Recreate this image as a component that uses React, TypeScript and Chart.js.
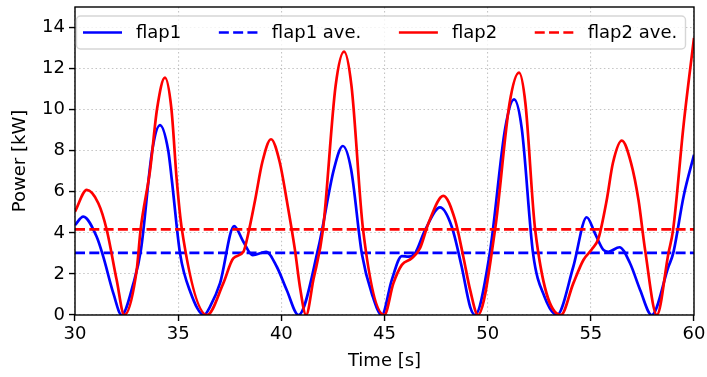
import React, { useEffect, useRef } from 'react';
import { Chart, registerables } from 'chart.js';

Chart.register(...registerables);

// ---- data ----
const flap1Time = [30, 30.4, 31.05, 31.37, 31.86, 32.26, 32.83, 33.2, 33.74, 34.12, 34.52, 34.69, 35.09, 35.6, 36.25, 36.54, 37.03, 37.71, 38.16, 38.61, 39.26, 39.78, 40.26, 40.83, 41.8, 42.55, 42.98, 43.38, 43.9, 44.4, 44.87, 45.35, 45.84, 46.16, 46.48, 46.97, 47.69, 48.26, 48.74, 49.15, 49.39, 50.1, 50.85, 51.28, 51.65, 52.2, 52.75, 53.36, 54.15, 54.8, 55.2, 55.61, 55.85, 56.39, 56.9, 57.39, 57.95, 58.76, 58.99, 59.5, 60];
const flap1Power = [4.38, 4.79, 3.81, 2.84, 1.05, 0, 1.54, 3.2, 8.0, 9.25, 8.0, 6.6, 3.0, 1.1, 0, 0.4, 1.55, 4.33, 3.57, 2.92, 3.08, 2.35, 1.22, 0, 3.3, 7.1, 8.23, 7.1, 3.0, 1.0, 0, 1.7, 2.87, 2.84, 3.0, 4.14, 5.24, 4.3, 2.35, 0.4, 0, 3.0, 9.1, 10.5, 9.1, 3.0, 0.9, 0, 2.35, 4.76, 3.98, 3.17, 3.08, 3.3, 2.52, 1.22, 0, 2.35, 3.0, 5.8, 7.8];

const flap2Time = [30, 30.57, 31.13, 31.54, 32.02, 32.39, 32.99, 33.18, 33.64, 33.98, 34.36, 34.67, 34.93, 35.18, 36.4, 37.19, 37.67, 38.16, 38.4, 38.73, 39.08, 39.5, 39.92, 40.26, 40.66, 40.9, 41.2, 41.55, 42.02, 42.63, 43.04, 43.4, 43.96, 44.99, 45.43, 45.84, 46.32, 46.72, 47.13, 47.85, 48.42, 48.82, 49.15, 49.53, 50.36, 51.06, 51.52, 51.83, 52.3, 53.55, 54.15, 54.64, 55.05, 55.37, 55.77, 56.07, 56.5, 56.95, 57.31, 57.63, 58.2, 58.76, 58.99, 59.5, 60];
const flap2Power = [5.03, 6.09, 5.44, 4.14, 1.7, 0, 2.19, 4.17, 7.06, 10.06, 11.56, 10.06, 6.58, 4.17, 0, 1.55, 2.76, 3.08, 3.98, 5.6, 7.45, 8.56, 7.45, 5.6, 3.17, 1.38, 0, 1.7, 4.17, 11.16, 12.83, 11.16, 4.17, 0, 1.54, 2.44, 2.76, 3.25, 4.47, 5.8, 4.63, 2.84, 1.22, 0, 4.17, 10.3, 11.8, 10.3, 4.17, 0, 1.54, 2.68, 3.2, 3.73, 5.6, 7.4, 8.49, 7.4, 5.6, 3.17, 0, 3.0, 4.17, 9.3, 13.5];

const flap1Average = 3.03;
const flap2Average = 4.17;

const timeRange = [30, 60];
const powerRange = [0, 15];
const xTickValues = [30, 35, 40, 45, 50, 55, 60];
const yTickValues = [0, 2, 4, 6, 8, 10, 12, 14];

const seriesLabels = ['flap1', 'flap1 ave.', 'flap2', 'flap2 ave.'];
const xTitle = 'Time [s]';
const yTitle = 'Power [kW]';

// ---- styles ----
const BLUE = '#0000ff';
const RED = '#ff0000';
const FONT = 'DejaVu Sans';
const LINE_W = 2.7;
const DASH = [10, 4.3];

const toPoints = (xs: number[], ys: number[]) => xs.map((x, i) => ({ x, y: ys[i] }));
const flatLine = (v: number) => timeRange.map((x) => ({ x, y: v }));

const framePlugin = {
  id: 'frameAndLegend',
  afterDraw(chart: any) {
    const { ctx, chartArea } = chart;
    const { left, top, right, bottom } = chartArea;
    ctx.save();
    // spines
    ctx.strokeStyle = '#000';
    ctx.lineWidth = 1.4;
    ctx.setLineDash([]);
    ctx.strokeRect(left, top, right - left, bottom - top);

    // legend (matplotlib-style)
    const items = chart.data.datasets
      .slice()
      .sort((a: any, b: any) => a.legendIndex - b.legendIndex)
      .map((d: any) => ({ label: d.label, color: d.borderColor, dash: d.borderDash || [] }));
    const boxX = left + 1.5;
    const boxY = top + 9;
    const boxW = 609;
    const boxH = 33;
    const cy = boxY + boxH / 2;
    ctx.beginPath();
    ctx.roundRect(boxX, boxY, boxW, boxH, 4);
    ctx.fillStyle = 'rgba(255,255,255,0.8)';
    ctx.fill();
    ctx.strokeStyle = 'rgba(204,204,204,0.8)';
    ctx.lineWidth = 1.4;
    ctx.stroke();

    ctx.font = `18px "${FONT}"`;
    ctx.textBaseline = 'middle';
    ctx.textAlign = 'left';
    let x = boxX + 6.5;
    const handle = 39;
    const gap = 14;
    const colSpace = 37.6;
    for (const it of items) {
      ctx.beginPath();
      ctx.strokeStyle = it.color;
      ctx.lineWidth = LINE_W;
      ctx.setLineDash(it.dash);
      ctx.moveTo(x, cy);
      ctx.lineTo(x + handle, cy);
      ctx.stroke();
      ctx.setLineDash([]);
      ctx.fillStyle = '#000';
      const tx = x + handle + gap;
      ctx.fillText(it.label, tx, cy + 1);
      x = tx + ctx.measureText(it.label).width + colSpace;
    }
    ctx.restore();
  },
};

export default function App() {
  const ref = useRef<HTMLCanvasElement | null>(null);

  useEffect(() => {
    document.body.style.margin = '0';
    const canvas = ref.current;
    if (!canvas) return;
    Chart.defaults.font.family = FONT;

    const tickFont = { family: FONT, size: 18 };
    const gridColor = 'rgba(176,176,176,0.75)';

    const chart = new Chart(canvas, {
      type: 'line',
      data: {
        datasets: [
          {
            label: seriesLabels[3],
            legendIndex: 3,
            data: flatLine(flap2Average),
            borderColor: RED,
            borderDash: DASH,
            borderWidth: LINE_W,
            order: 0,
          },
          {
            label: seriesLabels[2],
            legendIndex: 2,
            data: toPoints(flap2Time, flap2Power),
            borderColor: RED,
            borderWidth: LINE_W,
            cubicInterpolationMode: 'monotone',
            order: 1,
          },
          {
            label: seriesLabels[1],
            legendIndex: 1,
            data: flatLine(flap1Average),
            borderColor: BLUE,
            borderDash: DASH,
            borderWidth: LINE_W,
            order: 2,
          },
          {
            label: seriesLabels[0],
            legendIndex: 0,
            data: toPoints(flap1Time, flap1Power),
            borderColor: BLUE,
            borderWidth: LINE_W,
            cubicInterpolationMode: 'monotone',
            order: 3,
          },
        ] as any,
      },
      options: {
        animation: false,
        responsive: false,
        devicePixelRatio: 1,
        events: [],
        layout: { padding: { left: 0, right: 13, top: 7, bottom: 0 } },
        elements: {
          point: { radius: 0 },
          line: { fill: false, tension: 0, borderCapStyle: 'butt', borderJoinStyle: 'round' },
        },
        datasets: { line: { clip: 0 } as any },
        plugins: { legend: { display: false }, tooltip: { enabled: false } },
        scales: {
          x: {
            type: 'linear',
            min: timeRange[0],
            max: timeRange[1],
            afterBuildTicks: (s: any) => {
              s.ticks = xTickValues.map((v) => ({ value: v }));
            },
            afterFit: (s: any) => {
              s.height = 62;
              s.paddingLeft = 0;
              s.paddingRight = 0;
            },
            ticks: { color: '#000', font: tickFont, padding: 3, maxRotation: 0, autoSkip: false },
            grid: { color: gridColor, lineWidth: 1.1, tickColor: '#000', tickLength: 6, tickWidth: 1.4 },
            border: { display: false, dash: [1.5, 2.6] },
            title: { display: true, text: xTitle, color: '#000', font: tickFont, padding: { top: 0, bottom: 5 } },
          },
          y: {
            type: 'linear',
            min: powerRange[0],
            max: powerRange[1],
            afterBuildTicks: (s: any) => {
              s.ticks = yTickValues.map((v) => ({ value: v }));
            },
            afterFit: (s: any) => {
              s.width = 75;
              s.paddingTop = 0;
              s.paddingBottom = 0;
            },
            ticks: { color: '#000', font: tickFont, padding: 4 },
            grid: { color: gridColor, lineWidth: 1.1, tickColor: '#000', tickLength: 6, tickWidth: 1.4 },
            border: { display: false, dash: [1.5, 2.6] },
            title: { display: true, text: yTitle, color: '#000', font: tickFont, padding: { top: 10, bottom: 0 } },
          },
        },
      } as any,
      plugins: [framePlugin],
    });
    return () => chart.destroy();
  }, []);

  return (
    <div style={{ position: 'fixed', left: 0, top: 0, width: 707, height: 377, background: '#fff' }}>
      <canvas ref={ref} width={707} height={377} style={{ display: 'block' }} />
    </div>
  );
}
